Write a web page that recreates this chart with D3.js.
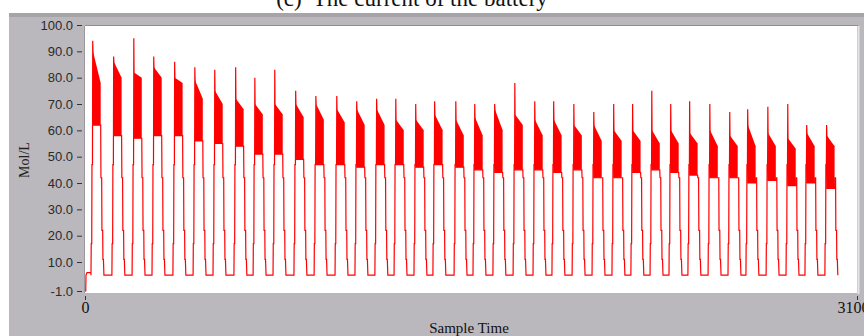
<!DOCTYPE html>
<html>
<head>
<meta charset="utf-8">
<script src="https://cdn.jsdelivr.net/npm/d3@7"></script>
<style>
  html, body { margin: 0; padding: 0; background: #fff; }
  svg { display: block; }
</style>
</head>
<body>
<svg id="chart" width="864" height="336"></svg>
<script>
// 数据
// ====
const xDomain = [0, 3100]
const yDomain = [-1, 100]
const yTicks = [100, 90, 80, 70, 60, 50, 40, 30, 20, 10, -1]
const xTicks = [0, 3100]

// signal before the first charge cycle, [sample, value]
const leadIn = [[0, -1], [3, -1], [4, 5], [8, 6], [24, 6]]

// one entry per cycle (38 cycles)
const cycleStart = [24, 108, 189, 269, 353, 434, 514, 598, 675, 755,
  839, 920, 1004, 1084, 1164, 1241, 1321, 1397, 1482, 1558,
  1638, 1719, 1799, 1875, 1956, 2036, 2116, 2192, 2269, 2345,
  2421, 2502, 2582, 2654, 2735, 2815, 2891, 2971]
const peakVal = [94, 88, 95, 88, 86, 84, 83, 84, 80, 83,
  75, 73, 73, 71, 72, 72, 70, 71, 71, 70,
  70, 78, 71, 71, 70, 67, 70, 70, 75, 70,
  71, 70, 67, 68, 69, 70, 62, 62]
const topStart = [90, 86, 82, 84, 80, 79, 75, 72, 70, 70,
  70, 70, 68, 68, 68, 64, 64, 66, 64, 65,
  68, 66, 64, 64, 62, 62, 60, 60, 60, 60,
  59, 60, 58, 62, 59, 57, 59, 58]
const topEnd = [78, 80, 80, 80, 78, 72, 70, 68, 66, 66,
  65, 64, 63, 62, 62, 60, 60, 60, 58, 58,
  60, 62, 58, 58, 58, 56, 56, 56, 55, 55,
  55, 54, 54, 54, 54, 53, 54, 54]
const lowVal = [62, 58, 57, 58, 58, 56, 55, 54, 51, 51,
  49, 47, 47, 46, 47, 47, 46, 47, 46, 45,
  44, 45, 45, 44, 45, 42, 42, 44, 45, 44,
  43, 42, 42, 40, 41, 39, 40, 38]

const restVal = 5          // level between cycles
const riseSteps = [17, 47] // short holds on the rising edge
const fallSteps = [42, 22, 11] // short holds on the falling edge

// 布局
// ====
const W = 864
const H = 336
const plot = { left: 85, right: 857, top: 26, bottom: 293 }

const svg = d3.select('#chart')

const x = d3.scaleLinear().domain(xDomain).range([plot.left, plot.right])
const y = d3.scaleLinear().domain(yDomain).range([291, 25])

// 标题 (cut off at the top of the picture)
svg.append('text')
  .attr('x', 412)
  .attr('y', 6)
  .attr('text-anchor', 'middle')
  .attr('font-family', '"Liberation Serif", "Times New Roman", serif')
  .attr('font-size', 23)
  .attr('fill', '#111')
  .attr('xml:space', 'preserve')
  .text('(c)  The current of the battery')

// 灰色面板
svg.append('rect')
  .attr('x', 9).attr('y', 13)
  .attr('width', W - 9).attr('height', H - 13)
  .attr('fill', '#bab8bd')
svg.append('rect')
  .attr('x', 9).attr('y', 13)
  .attr('width', W - 9).attr('height', 4)
  .attr('fill', '#a6a4a9')

// 绘图区
svg.append('rect')
  .attr('x', plot.left).attr('y', plot.top)
  .attr('width', plot.right - plot.left).attr('height', plot.bottom - plot.top)
  .attr('fill', '#fff')
svg.append('path')
  .attr('d', `M${plot.left} ${plot.top - 0.5} H${plot.right + 1}`)
  .attr('stroke', '#8f8d92')
  .attr('stroke-width', 1)
svg.append('path')
  .attr('d', `M${plot.right + 1.5} ${plot.top} V${plot.bottom + 1}`)
  .attr('stroke', '#e4e3e6')
  .attr('stroke-width', 2)
svg.append('path')
  .attr('d', `M${plot.left - 0.5} ${plot.top} V${plot.bottom}`)
  .attr('stroke', '#9a989d')
  .attr('stroke-width', 1)

svg.append('clipPath')
  .attr('id', 'plot-clip')
  .append('rect')
  .attr('x', plot.left).attr('y', plot.top)
  .attr('width', plot.right - plot.left).attr('height', plot.bottom - plot.top)

// 数据点
// ======
function cyclePoints(i) {
  const s = cycleStart[i]
  return [
    [s, restVal],
    [s + 1, riseSteps[0]], [s + 3, riseSteps[0]],
    [s + 4, riseSteps[1]], [s + 6, riseSteps[1]],
    [s + 7, peakVal[i]], [s + 8, topStart[i]],
    [s + 9, lowVal[i]], [s + 39, lowVal[i]],
    [s + 40, fallSteps[0]], [s + 43, fallSteps[0]],
    [s + 44, fallSteps[1]], [s + 47, fallSteps[1]],
    [s + 48, fallSteps[2]], [s + 50, fallSteps[2]],
    [s + 52, restVal]
  ]
}

let points = leadIn.slice()
cycleStart.forEach((s, i) => {
  points = points.concat(cyclePoints(i))
})

// dense plateau of each cycle, between the low and high envelopes
const bands = cycleStart.map((s, i) => [
  { t: s + 8, lo: lowVal[i], hi: topStart[i] },
  { t: s + 39, lo: lowVal[i], hi: topEnd[i] }
])

const g = svg.append('g').attr('clip-path', 'url(#plot-clip)')

const area = d3.area()
  .x(d => x(d.t))
  .y0(d => y(d.lo))
  .y1(d => y(d.hi))

g.selectAll('path.band')
  .data(bands)
  .join('path')
  .classed('band', true)
  .attr('d', area)
  .attr('fill', '#ff0000')

const line = d3.line()
  .x(d => x(d[0]))
  .y(d => y(d[1]))

g.append('path')
  .datum(points)
  .attr('d', line)
  .attr('fill', 'none')
  .attr('stroke', '#ff0000')
  .attr('stroke-width', 1.2)
  .attr('stroke-linejoin', 'miter')

// 坐标轴
// ======
const yAxis = svg.append('g')
  .attr('transform', 'translate(82,0)')
  .call(d3.axisLeft(y).tickValues(yTicks).tickFormat(d => d.toFixed(1)).tickSize(5).tickPadding(4))
yAxis.select('.domain').remove()
yAxis.selectAll('line').attr('stroke', '#333')
yAxis.selectAll('text')
  .attr('font-family', '"Liberation Sans Narrow", "Arial Narrow", "Liberation Sans", sans-serif')
  .attr('font-size', 13)
  .attr('fill', '#2a2a2a')

const xAxis = svg.append('g')
  .attr('transform', `translate(0,${plot.bottom + 3})`)
  .call(d3.axisBottom(x).tickValues(xTicks).tickFormat(d3.format('d')).tickSize(4).tickPadding(2))
xAxis.select('.domain').remove()
xAxis.selectAll('line').attr('stroke', '#333')
xAxis.selectAll('text')
  .attr('font-family', '"Liberation Serif", "Times New Roman", serif')
  .attr('font-size', 16)
  .attr('fill', '#111')
xAxis.selectAll('.tick').filter(d => d === 3100).select('text')
  .attr('text-anchor', 'start')
  .attr('x', -20)

// 轴标题
svg.append('text')
  .attr('transform', 'translate(29,160) rotate(-90)')
  .attr('text-anchor', 'middle')
  .attr('font-family', '"Liberation Serif", "Times New Roman", serif')
  .attr('font-size', 14)
  .attr('fill', '#222')
  .text('Mol/L')

svg.append('text')
  .attr('x', 469)
  .attr('y', 333)
  .attr('text-anchor', 'middle')
  .attr('font-family', '"Liberation Serif", "Times New Roman", serif')
  .attr('font-size', 15)
  .attr('fill', '#111')
  .text('Sample Time')
</script>
</body>
</html>
